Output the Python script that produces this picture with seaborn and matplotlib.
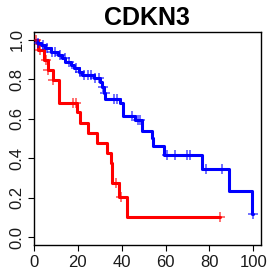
import numpy as np
import pandas as pd
import seaborn as sns
import matplotlib
matplotlib.use("Agg")
import matplotlib.pyplot as plt

# Kaplan-Meier steps (time, survival)
red_time = [0, 2.0, 4.5, 6.5, 8.5, 11.4, 19.7, 20.9, 24.5, 28.8, 33.4, 34.9, 35.6, 38.6, 42.5, 84.9]
red_surv = [1.0, 0.95, 0.90, 0.848, 0.797, 0.682, 0.632, 0.581, 0.53, 0.476, 0.426, 0.375, 0.274, 0.203, 0.104, 0.104]
red_cens = [1.0, 2.5, 5.3, 6.5, 8.5, 17.9, 19.2, 37.3, 39.8, 84.9]

blue_time = [0, 1.5, 3, 5, 7.6, 11, 12.8, 14.3, 16.7, 18.2, 20.5, 22, 27.3, 30.3, 31.1, 31.8,
             32.6, 39.1, 40.6, 46.2, 49.3, 53.8, 54.5, 59.4, 76.5, 89.1, 99.5, 99.8]
blue_surv = [1.0, 0.983, 0.975, 0.958, 0.94, 0.924, 0.907, 0.89, 0.873, 0.857, 0.839, 0.823, 0.806,
             0.789, 0.763, 0.73, 0.70, 0.68, 0.614, 0.594, 0.540, 0.505, 0.463, 0.417, 0.346, 0.235, 0.117, 0.117]
blue_cens = [2, 4, 6, 8, 9.5, 12, 14, 16, 19, 21, 23, 24.5, 26, 28, 29.5, 31.5, 32.3, 36.4, 37.9,
             44.7, 47.3, 48.2, 60.6, 64.4, 69.7, 71.2, 78.4, 85.6, 99.8]

sns.set_style("ticks")
plt.rcParams['font.family'] = ['Liberation Sans', 'DejaVu Sans']

fig = plt.figure(figsize=(2.7, 2.75), dpi=100)
ax = fig.add_axes([0.126, 0.109, 0.8395, 0.7746])

for t, s, c, col in [(red_time, red_surv, red_cens, 'red'), (blue_time, blue_surv, blue_cens, 'blue')]:
    df = pd.DataFrame({'time': t, 'surv': s})
    sns.lineplot(data=df, x='time', y='surv', ax=ax, color=col, lw=2.2,
                 drawstyle='steps-post', sort=False, estimator=None)
    idx = np.searchsorted(np.array(t), np.array(c), side='right') - 1
    cdf = pd.DataFrame({'time': c, 'surv': np.array(s)[idx]})
    sns.scatterplot(data=cdf, x='time', y='surv', ax=ax, marker='+', color=col,
                    s=45, linewidth=1.2, alpha=0.65, zorder=3)

ax.set_xlim(0, 103.4)
ax.set_ylim(-0.04, 1.04)
ax.set_xticks([0, 20, 40, 60, 80, 100])
ax.set_yticks([0.0, 0.2, 0.4, 0.6, 0.8, 1.0])
ax.set_yticklabels(['0.0', '0.2', '0.4', '0.6', '0.8', '1.0'], rotation=90, va='center')
ax.tick_params(axis='both', length=4, width=0.8, labelsize=12, colors='black',
               labelcolor='#1a1a1a', pad=3)
ax.set_xlabel('')
ax.set_ylabel('')
for sp in ax.spines.values():
    sp.set_visible(True)
    sp.set_color('black')
    sp.set_linewidth(1.0)
ax.set_title('CDKN3', fontsize=18, fontweight='bold', color='black', pad=5)

fig.savefig('out.png', dpi=100)
